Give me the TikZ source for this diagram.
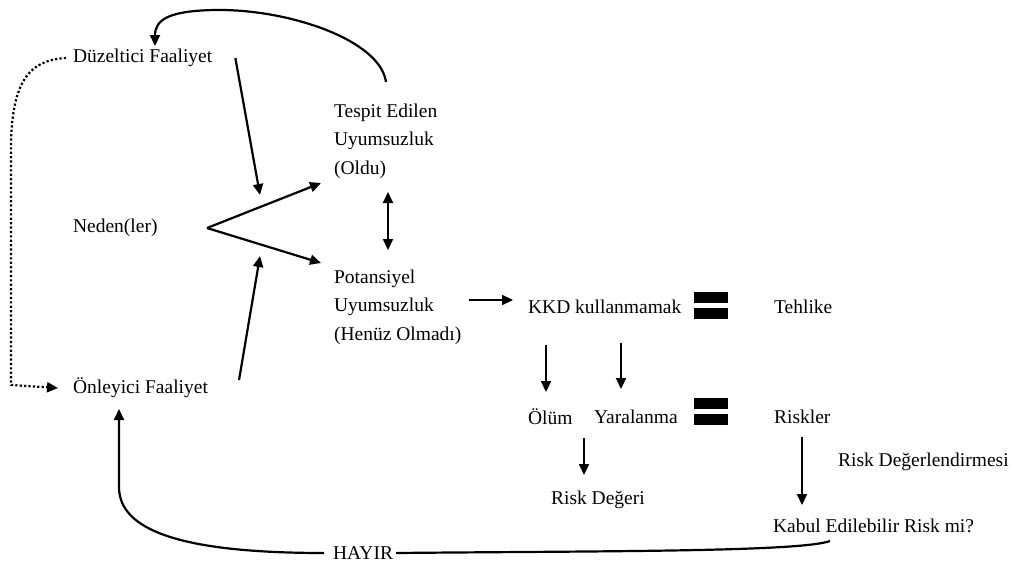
\documentclass[tikz,border=0pt]{standalone}
\usepackage{fontspec}
\setmainfont{Liberation Serif}
\usetikzlibrary{arrows.meta}

\begin{document}
\begin{tikzpicture}
[-,line width=2.2pt,x=1pt,y=-1pt,%
  every node/.style={inner sep=0pt,anchor=west,align=left,%
    font=\fontsize{19.5}{28.5}\selectfont},%
  arr/.style={-{Triangle[length=11pt,width=10pt]}},%
  darr/.style={{Triangle[length=11pt,width=10pt]}-{Triangle[length=11pt,width=10pt]}},%
  dotline/.style={line width=2.2pt,dash pattern=on 2.2pt off 2.2pt},%
  eqbar/.style={fill,minimum width=34pt,minimum height=11pt}]
\useasboundingbox (0,0) rectangle (1013,565);
\node (duz) at (72,58) {Düzeltici Faaliyet};
\node (neden) at (72,228) {Neden(ler)};
\node (onl) at (72,388) {Önleyici Faaliyet};
\node (tespit) at (333,141) {Tespit Edilen\\Uyumsuzluk\\(Oldu)};
\node (pot) at (333,307) {Potansiyel\\Uyumsuzluk\\(Henüz Olmadı)};
\node (kkd) at (527,307) {KKD kullanmamak};
\node[eqbar] (bara) at (693,297.5) {};
\node[eqbar] (barb) at (693,313) {};
\node (tehlike) at (773,307) {Tehlike};
\node (olum) at (527,417) {Ölüm};
\node (yara) at (593,417) {Yaralanma};
\node[eqbar] (barc) at (693,403) {};
\node[eqbar] (bard) at (693,419.5) {};
\node (riskler) at (773,417) {Riskler};
\node (rdeger) at (550,500) {Risk Değeri};
\node (rdeg) at (837,462) {Risk Değerlendirmesi};
\node (kabul) at (772,526) {Kabul Edilebilir Risk mi?};
\node (hayir) at (332,553) {HAYIR};
% free ends
\coordinate (vtip) at (207,228);
\coordinate (dtip) at (260,195);
\coordinate (otip) at (260,256);
\coordinate (tin) at (321,183);
\coordinate (pin) at (321,263);
\coordinate (tout) at (386,82);
\coordinate (duzin) at (155,46);
\coordinate (onlin) at (119,409);
\coordinate (kout) at (830,541);
\draw[arr] ([xshift=22pt]duz.east) -- (dtip);
\draw[arr] ([xshift=30pt,yshift=8pt]onl.east) -- (otip);
\draw[arr] (vtip) -- (tin);
\draw[arr] (vtip) -- (pin);
\draw[darr] (388,192) -- (388,250);
\draw[arr] (tout) .. controls (380,40) and (290,10) .. (220,10)
  .. controls (168,10) and (155,20) .. (duzin);
\draw[arr] ([xshift=7pt,yshift=7pt]pot.east) -- ([xshift=-14pt,yshift=7pt]kkd.west);
\draw[arr] (546,345) -- (546,392);
\draw[arr] (621,343) -- (621,389);
\draw[arr] (584,438) -- (584,475);
\draw[arr] (802,437) -- (802,505);
\draw[arr,dotline] ([xshift=-6pt]duz.west) .. controls (30,60) and (11,80) .. (11,150)
  -- (11,385) -- ([xshift=-14pt]onl.west);
\draw[arr] ([xshift=-8pt]hayir.west) .. controls (180,553) and (119,530) .. (119,487)
  -- (onlin);
\draw ([xshift=2pt]hayir.east) .. controls (600,551) and (800,552) .. (kout);
\end{tikzpicture}
\end{document}
